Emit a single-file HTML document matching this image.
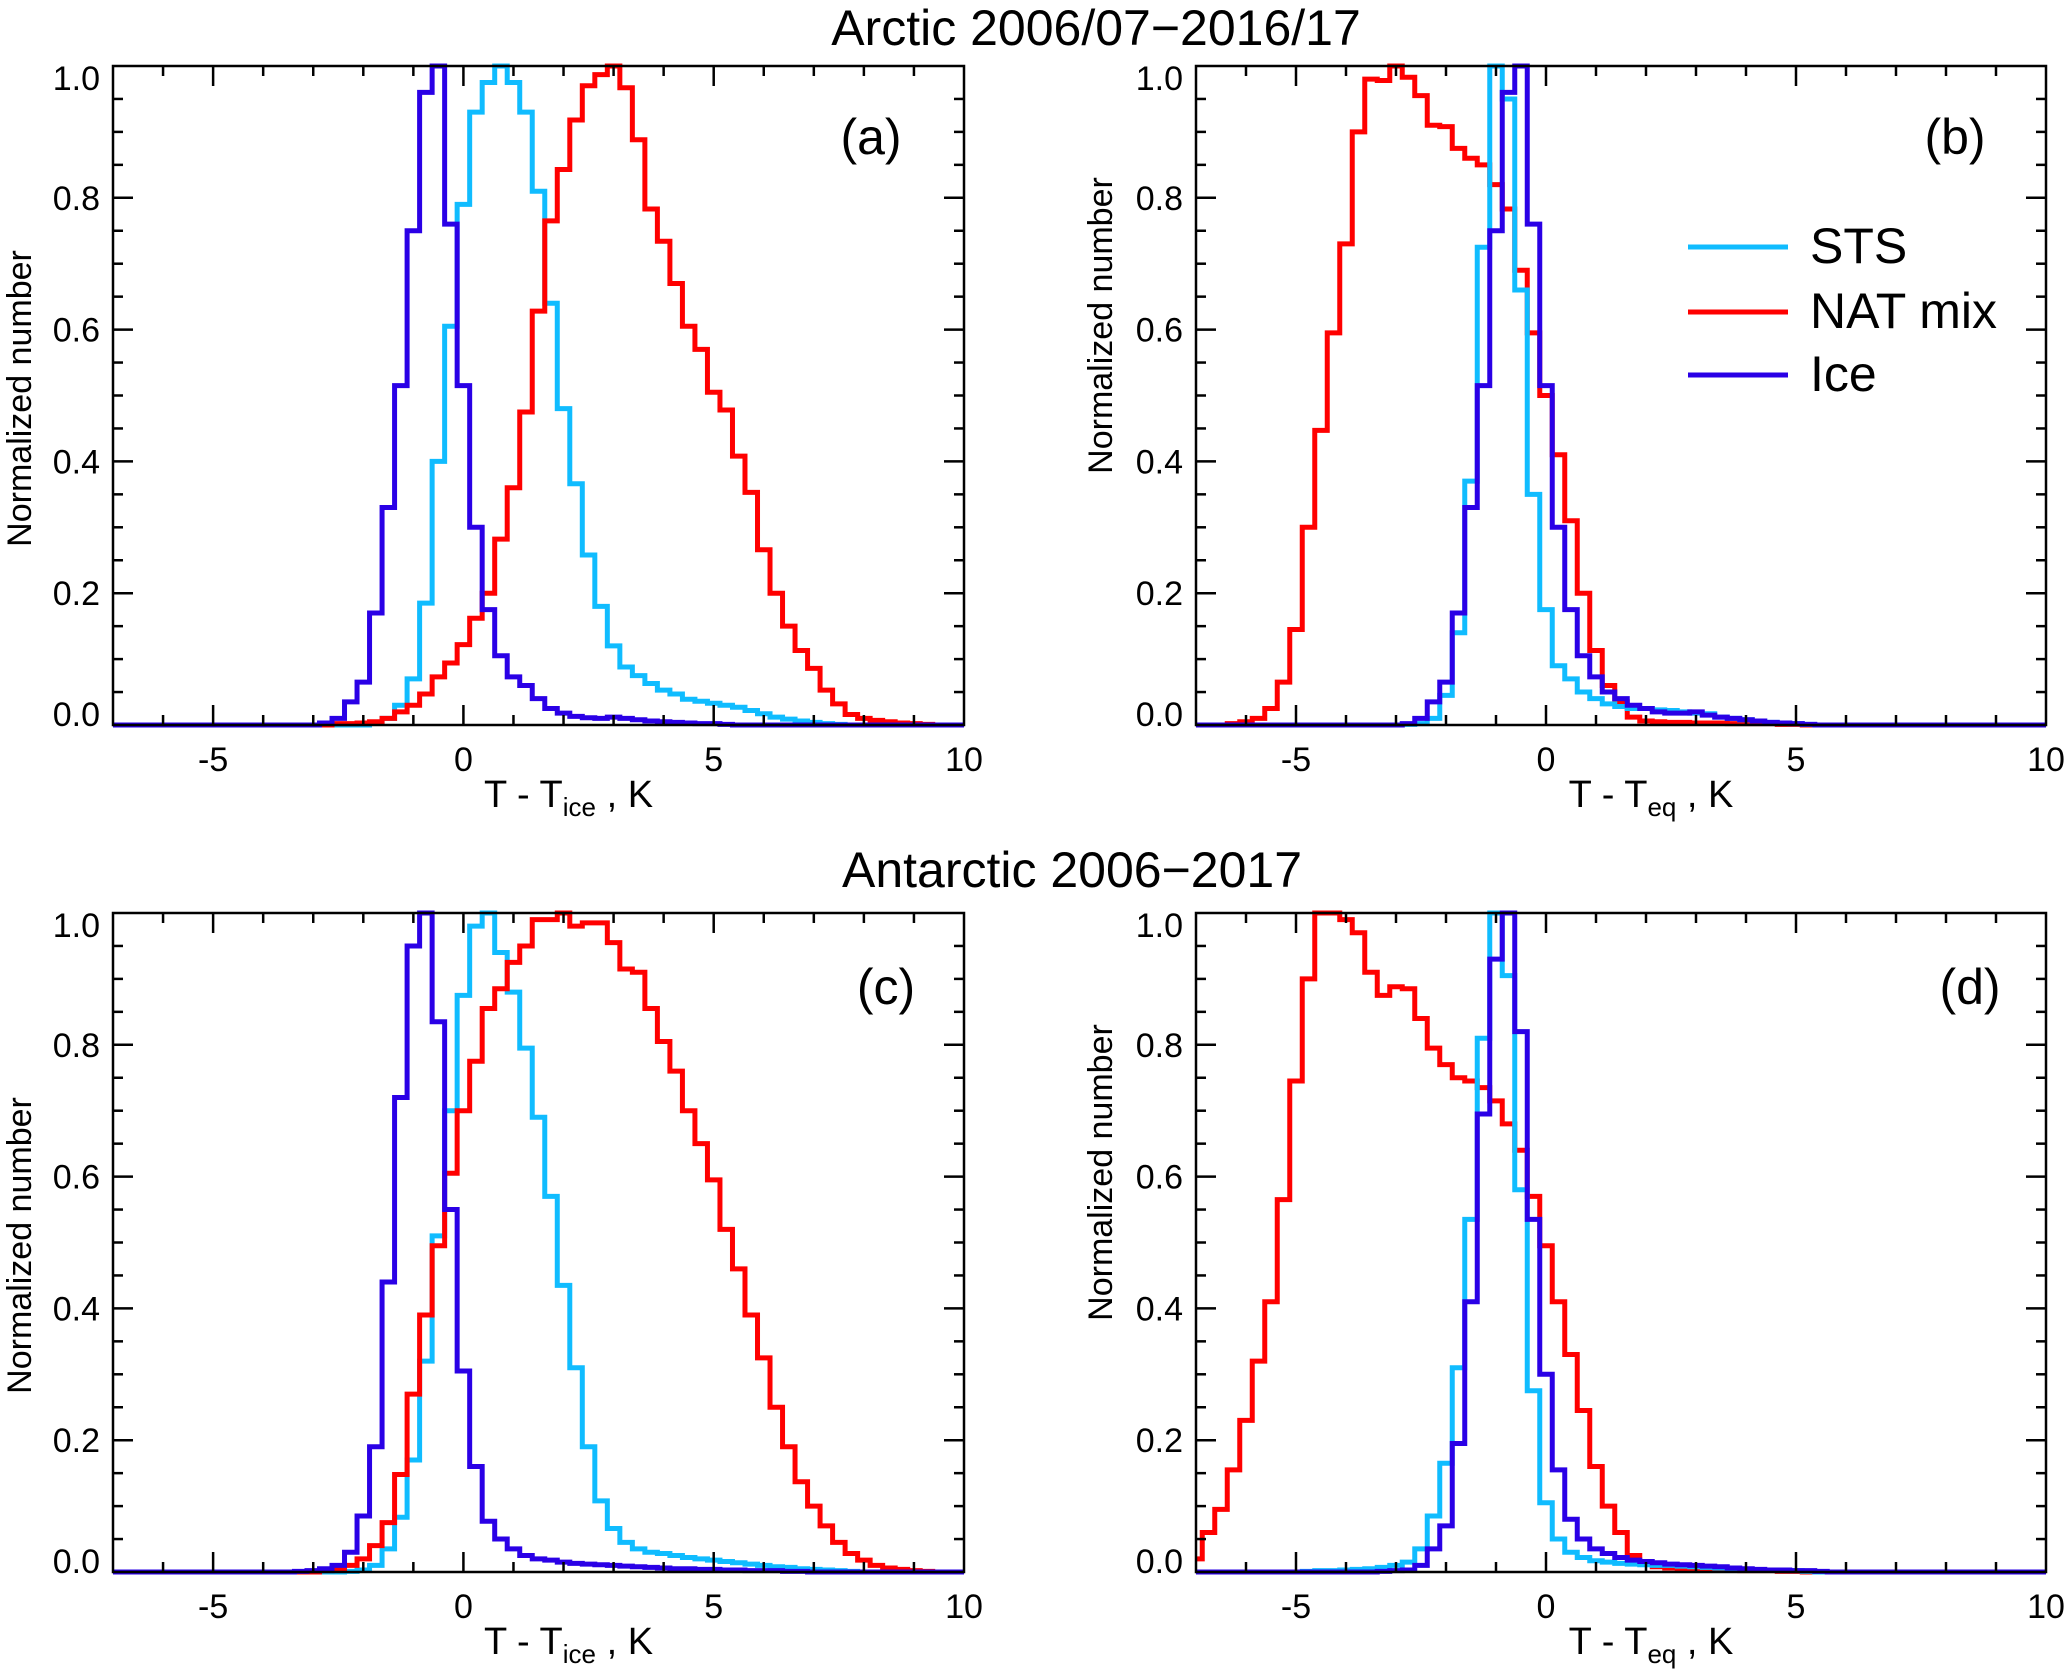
<!DOCTYPE html>
<html><head><meta charset="utf-8"><style>
html,body{margin:0;padding:0;background:#fff;}
svg{display:block;font-family:"Liberation Sans",sans-serif;}
</style></head><body>
<svg id="fig" width="2067" height="1674" viewBox="0 0 2067 1674" xmlns="http://www.w3.org/2000/svg">
<text x="1096" y="45" font-size="50" text-anchor="middle">Arctic 2006/07−2016/17</text>
<text x="1072" y="887" font-size="50" text-anchor="middle">Antarctic 2006−2017</text>
</svg>
<script>
const xTicks = [-5, 0, 5, 10];
const yTicks = [0, 0.2, 0.4, 0.6, 0.8, 1.0];
const yTickLabels = ["0.0", "0.2", "0.4", "0.6", "0.8", "1.0"];
const binWidth = 0.25;

const aSTSStart = -1.75;
const aSTS = [0.003,0.01,0.03,0.07,0.185,0.40,0.605,0.79,0.93,0.975,1.0,0.975,0.93,0.81,0.64,0.48,0.366,0.258,0.18,0.12,0.088,0.075,0.063,0.053,0.047,0.039,0.036,0.033,0.03,0.027,0.022,0.017,0.012,0.009,0.006,0.004,0.002,0.001];
const aNATStart = -2.5;
const aNAT = [0.002,0.002,0.003,0.005,0.01,0.02,0.03,0.047,0.073,0.094,0.122,0.162,0.2,0.282,0.36,0.475,0.628,0.765,0.843,0.918,0.97,0.987,1.0,0.967,0.888,0.783,0.734,0.67,0.605,0.57,0.505,0.478,0.408,0.353,0.266,0.2,0.15,0.113,0.086,0.053,0.032,0.016,0.01,0.007,0.005,0.003,0.002,0.001];
const aIceStart = -2.75;
const aIce = [0.003,0.01,0.035,0.065,0.17,0.33,0.515,0.75,0.96,1.0,0.76,0.515,0.30,0.175,0.105,0.073,0.06,0.04,0.025,0.018,0.013,0.011,0.01,0.012,0.01,0.008,0.006,0.005,0.004,0.003,0.002,0.002,0.001];

const bSTSStart = -2.75;
const bSTS = [0.001,0.002,0.01,0.045,0.14,0.37,0.725,1.0,0.95,0.66,0.35,0.175,0.09,0.07,0.05,0.04,0.032,0.028,0.025,0.025,0.023,0.022,0.02,0.018,0.017,0.012,0.01,0.008,0.006,0.004,0.003,0.002,0.001];
const bNATStart = -6.25;
const bNAT = [0.002,0.005,0.01,0.025,0.065,0.145,0.30,0.447,0.595,0.73,0.9,0.98,0.978,1.0,0.983,0.955,0.91,0.908,0.875,0.86,0.85,0.82,0.783,0.69,0.595,0.5,0.41,0.31,0.2,0.113,0.06,0.035,0.012,0.006,0.005,0.004,0.004,0.003,0.003,0.003,0.002,0.002,0.002,0.002,0.001,0.001];
const bIceStart = -2.75;
const bIce = [0.002,0.01,0.035,0.065,0.17,0.33,0.515,0.75,0.96,1.0,0.76,0.515,0.30,0.175,0.105,0.073,0.05,0.04,0.03,0.025,0.02,0.018,0.018,0.02,0.015,0.012,0.01,0.008,0.006,0.004,0.003,0.002,0.001];

const cSTSStart = -2.25;
const cSTS = [0.001,0.003,0.01,0.035,0.083,0.17,0.32,0.51,0.7,0.875,0.98,1.0,0.94,0.88,0.795,0.69,0.57,0.435,0.31,0.19,0.108,0.066,0.045,0.035,0.03,0.028,0.025,0.022,0.02,0.018,0.016,0.014,0.012,0.01,0.008,0.007,0.005,0.004,0.003,0.002,0.001];
const cNATStart = -2.75;
const cNAT = [0.002,0.005,0.01,0.02,0.04,0.075,0.148,0.27,0.39,0.495,0.605,0.7,0.775,0.855,0.885,0.925,0.95,0.99,0.99,1.0,0.98,0.985,0.985,0.955,0.915,0.91,0.855,0.805,0.76,0.7,0.65,0.595,0.52,0.46,0.39,0.325,0.25,0.19,0.137,0.1,0.07,0.045,0.028,0.018,0.01,0.006,0.004,0.002,0.001];
const cIceStart = -3.25;
const cIce = [0.001,0.002,0.005,0.01,0.03,0.085,0.19,0.44,0.72,0.95,1.0,0.835,0.55,0.305,0.16,0.077,0.05,0.035,0.025,0.02,0.018,0.015,0.013,0.012,0.011,0.01,0.009,0.008,0.007,0.006,0.005,0.005,0.004,0.004,0.003,0.003,0.002,0.002,0.002,0.001,0.001];

const dSTSStart = -4.75;
const dSTS = [0.001,0.002,0.002,0.003,0.004,0.005,0.007,0.01,0.015,0.035,0.085,0.165,0.31,0.535,0.81,1.0,0.905,0.58,0.275,0.105,0.05,0.03,0.022,0.017,0.015,0.013,0.012,0.011,0.01,0.01,0.009,0.008,0.007,0.006,0.005,0.004,0.003,0.003,0.002,0.002,0.001];
const dNATStart = -7.0;
const dNAT = [0.02,0.06,0.095,0.155,0.23,0.32,0.41,0.565,0.745,0.9,1.0,1.0,0.99,0.97,0.91,0.875,0.888,0.885,0.84,0.795,0.77,0.75,0.745,0.735,0.715,0.68,0.64,0.57,0.495,0.41,0.33,0.245,0.16,0.1,0.06,0.025,0.012,0.008,0.006,0.005,0.004,0.004,0.003,0.003,0.002,0.002,0.002,0.001,0.001];
const dIceStart = -3.25;
const dIce = [0.001,0.002,0.003,0.01,0.035,0.07,0.195,0.41,0.695,0.93,1.0,0.82,0.535,0.3,0.155,0.08,0.05,0.035,0.028,0.022,0.018,0.016,0.014,0.012,0.011,0.01,0.009,0.008,0.006,0.005,0.004,0.003,0.003,0.002,0.002,0.001];

const COL_STS = "#10bcff", COL_NAT = "#ff0000", COL_ICE = "#2a00e6";
const NS = "http://www.w3.org/2000/svg";
const svg = document.getElementById("fig");
const XMIN = -7, XMAX = 10;

function mk(tag, attrs, parent) {
  const e = document.createElementNS(NS, tag);
  for (const k in attrs) e.setAttribute(k, attrs[k]);
  (parent || svg).appendChild(e);
  return e;
}

const panels = [
  {id:"a", L:113, R:964, T:66, B:725, sub:"ice", label:"(a)", lx:871, ly:154,
   series:[[aSTSStart,aSTS,COL_STS,"sts"],[aNATStart,aNAT,COL_NAT,"nat-mix"],[aIceStart,aIce,COL_ICE,"ice"]]},
  {id:"b", L:1196, R:2046, T:66, B:725, sub:"eq", label:"(b)", lx:1955, ly:154,
   series:[[bNATStart,bNAT,COL_NAT,"nat-mix"],[bSTSStart,bSTS,COL_STS,"sts"],[bIceStart,bIce,COL_ICE,"ice"]]},
  {id:"c", L:113, R:964, T:913, B:1572, sub:"ice", label:"(c)", lx:886, ly:1004,
   series:[[cSTSStart,cSTS,COL_STS,"sts"],[cNATStart,cNAT,COL_NAT,"nat-mix"],[cIceStart,cIce,COL_ICE,"ice"]]},
  {id:"d", L:1196, R:2046, T:913, B:1572, sub:"eq", label:"(d)", lx:1970, ly:1004,
   series:[[dNATStart,dNAT,COL_NAT,"nat-mix"],[dSTSStart,dSTS,COL_STS,"sts"],[dIceStart,dIce,COL_ICE,"ice"]]}
];

const defs = mk("defs", {});
panels.forEach(p => {
  const xs = v => p.L + (v - XMIN) / (XMAX - XMIN) * (p.R - p.L);
  const ys = v => p.B - v * (p.B - p.T);
  const g = mk("g", {});
  
  

  const cp = mk("clipPath", {id:"clip-" + p.id}, defs);
  mk("rect", {x:p.L, y:p.T - 3, width:p.R - p.L, height:p.B - p.T + 6}, cp);

  p.series.forEach(s => {
    const start = s[0], vals = s[1];
    let d = "M" + xs(XMIN) + "," + ys(0);
    let prev = 0;
    vals.forEach((v, i) => {
      const xl = xs(start - binWidth / 2 + i * binWidth);
      d += " L" + xl.toFixed(2) + "," + ys(prev).toFixed(2) + " L" + xl.toFixed(2) + "," + ys(v).toFixed(2);
      prev = v;
    });
    const xr = xs(start - binWidth / 2 + vals.length * binWidth);
    d += " L" + xr.toFixed(2) + "," + ys(prev).toFixed(2) + " L" + xr.toFixed(2) + "," + ys(0).toFixed(2) + " L" + xs(XMAX) + "," + ys(0);
    const path = mk("path", {d:d, fill:"none", stroke:s[2], "stroke-width":5, "stroke-linejoin":"miter", "clip-path":"url(#clip-" + p.id + ")"}, g);
    
    
  });

  const box = mk("rect", {x:p.L, y:p.T, width:p.R - p.L, height:p.B - p.T, fill:"none", stroke:"#000", "stroke-width":2.5}, g);
  
  

  for (let v = -6; v <= 9; v++) {
    const major = xTicks.indexOf(v) >= 0;
    const len = major ? 20 : 10;
    const x = xs(v);
    mk("line", {x1:x, y1:p.B, x2:x, y2:p.B - len, stroke:"#000", "stroke-width":2.5}, g);
    mk("line", {x1:x, y1:p.T, x2:x, y2:p.T + len, stroke:"#000", "stroke-width":2.5}, g);
  }
  xTicks.forEach(v => {
    const t = mk("text", {x:xs(v), y:p.B + 46, "font-size":34, "text-anchor":"middle"}, g);
    t.textContent = v;
    
    
  });
  for (let k = 1; k < 20; k++) {
    const v = k * 0.05;
    const major = (k % 4 === 0);
    const len = major ? 20 : 10;
    const y = ys(v);
    mk("line", {x1:p.L, y1:y, x2:p.L + len, y2:y, stroke:"#000", "stroke-width":2.5}, g);
    mk("line", {x1:p.R, y1:y, x2:p.R - len, y2:y, stroke:"#000", "stroke-width":2.5}, g);
  }
  yTicks.forEach((v, i) => {
    let y = ys(v) + 12;
    if (v >= 0.999) y = ys(v) + 24;
    if (v <= 0.001) y = ys(v) + 1;
    const t = mk("text", {x:p.L - 13, y:y, "font-size":34, "text-anchor":"end"}, g);
    t.textContent = yTickLabels[i];
    
    
  });

  const xt = mk("text", {x:(p.L + p.R) / 2 + 30, y:p.B + 82, "font-size":38, "text-anchor":"middle"}, g);
  
  
  const t1 = mk("tspan", {}, xt); t1.textContent = "T - T";
  const t2 = mk("tspan", {dy:9, "font-size":26}, xt); t2.textContent = p.sub;
  const t3 = mk("tspan", {dy:-9}, xt); t3.textContent = " , K";

  const yx = p.L === 113 ? 31 : 1112;
  const yc = (p.T + p.B) / 2 + (p.L === 113 ? 3 : -70);
  const yt = mk("text", {x:yx, y:yc, "font-size":34, "text-anchor":"middle", transform:"rotate(-90 " + yx + " " + yc + ")"}, g);
  yt.textContent = "Normalized  number";
  
  

  const pl = mk("text", {x:p.lx, y:p.ly, "font-size":50, "text-anchor":"middle"}, g);
  pl.textContent = p.label;
  
  
});

const legendNames = ["STS", "NAT mix", "Ice"];
const legendColors = [COL_STS, COL_NAT, COL_ICE];
const legendY = [247, 312, 375];
const lg = mk("g", {});


legendNames.forEach((n, i) => {
  const e = mk("g", {}, lg);
  
  
  mk("line", {x1:1688, y1:legendY[i], x2:1788, y2:legendY[i], stroke:legendColors[i], "stroke-width":5}, e);
  const t = mk("text", {x:1810, y:legendY[i] + 16, "font-size":50}, e);
  t.textContent = n;
});
</script>
</body></html>
